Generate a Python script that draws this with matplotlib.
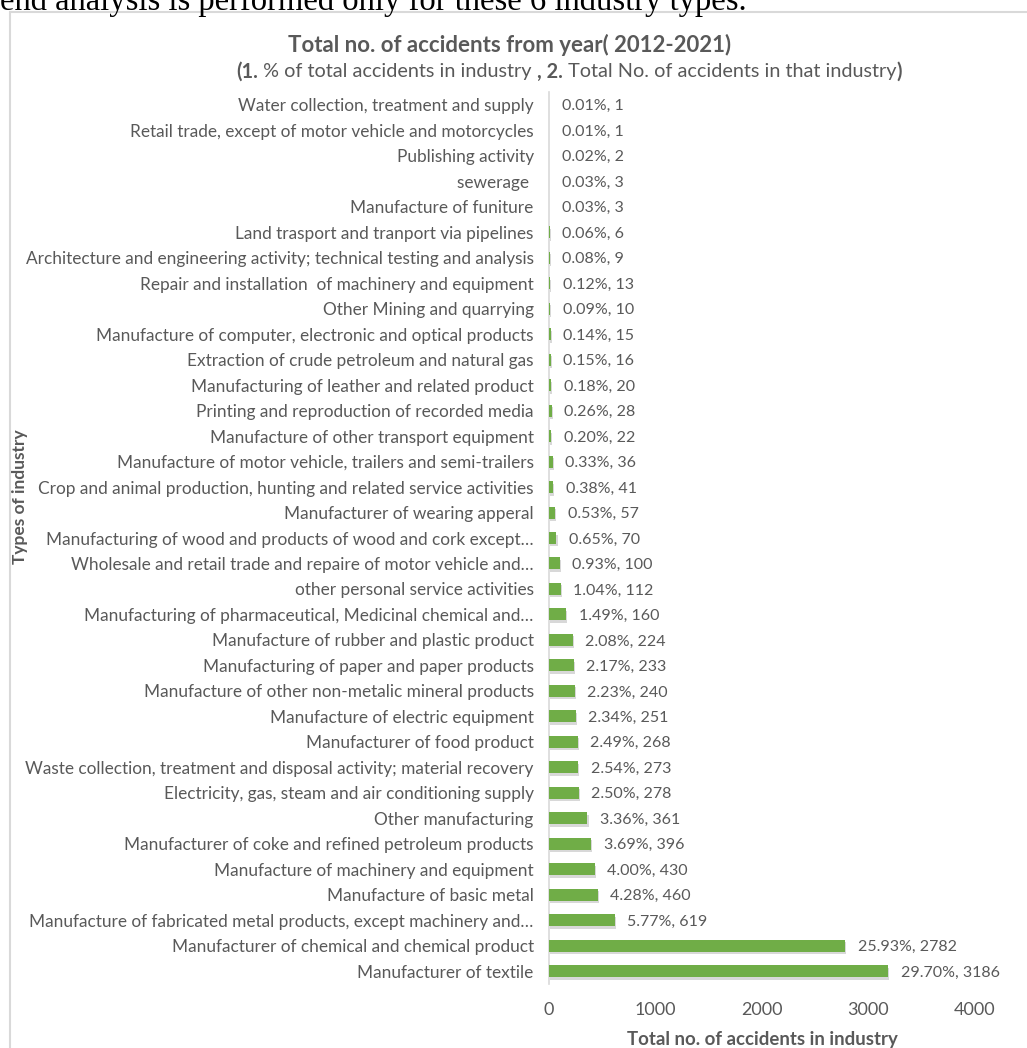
import matplotlib
matplotlib.use("Agg")
import matplotlib.pyplot as plt
import matplotlib.patheffects as pe
from matplotlib.patches import Rectangle

industries = [
    "Water collection, treatment and supply",
    "Retail trade, except of motor vehicle and motorcycles",
    "Publishing activity",
    "sewerage ",
    "Manufacture of funiture",
    "Land trasport and tranport via pipelines",
    "Architecture and engineering activity; technical testing and analysis",
    "Repair and installation  of machinery and equipment",
    "Other Mining and quarrying",
    "Manufacture of computer, electronic and optical products",
    "Extraction of crude petroleum and natural gas",
    "Manufacturing of leather and related product",
    "Printing and reproduction of recorded media",
    "Manufacture of other transport equipment",
    "Manufacture of motor vehicle, trailers and semi-trailers",
    "Crop and animal production, hunting and related service activities",
    "Manufacturer of wearing apperal",
    "Manufacturing of wood and products of wood and cork except\u2026",
    "Wholesale and retail trade and repaire of motor vehicle and\u2026",
    "other personal service activities",
    "Manufacturing of pharmaceutical, Medicinal chemical and\u2026",
    "Manufacture of rubber and plastic product",
    "Manufacturing of paper and paper products",
    "Manufacture of other non-metalic mineral products",
    "Manufacture of electric equipment",
    "Manufacturer of food product",
    "Waste collection, treatment and disposal activity; material recovery",
    "Electricity, gas, steam and air conditioning supply",
    "Other manufacturing",
    "Manufacturer of coke and refined petroleum products",
    "Manufacture of machinery and equipment",
    "Manufacture of basic metal",
    "Manufacture of fabricated metal products, except machinery and\u2026",
    "Manufacturer of chemical and chemical product",
    "Manufacturer of textile",
]
accidents = [1, 1, 2, 3, 3, 6, 9, 13, 10, 15, 16, 20, 28, 22, 36, 41, 57, 70,
             100, 112, 160, 224, 233, 240, 251, 268, 273, 278, 361, 396, 430,
             460, 619, 2782, 3186]
percents = ["0.01%", "0.01%", "0.02%", "0.03%", "0.03%", "0.06%", "0.08%",
            "0.12%", "0.09%", "0.14%", "0.15%", "0.18%", "0.26%", "0.20%",
            "0.33%", "0.38%", "0.53%", "0.65%", "0.93%", "1.04%", "1.49%",
            "2.08%", "2.17%", "2.23%", "2.34%", "2.49%", "2.54%", "2.50%",
            "3.36%", "3.69%", "4.00%", "4.28%", "5.77%", "25.93%", "29.70%"]
xticks = [0, 1000, 2000, 3000, 4000]

FONT = ["Lato", "DejaVu Sans"]
GRAY = "#595959"
GREEN = "#70AD47"

plt.rcParams["font.family"] = FONT

W, H = 1027, 1048
fig = plt.figure(figsize=(W / 100, H / 100), dpi=100)

# outer chart border
fig.patches.append(Rectangle((10 / W, -0.05), 1.1, (H - 12) / H + 0.05,
                             transform=fig.transFigure, fill=False,
                             edgecolor="#D9D9D9", linewidth=1.5))

# cut-off document text at the top (cut in the reference as well)
fig.text(0 / W, 1 - 10 / H, "end analysis is performed only for these 6 industry types.",
         family=["Liberation Serif", "DejaVu Serif"], fontsize=23.5, color="black",
         ha="left", va="baseline")

left, right = 549 / W, 975 / W
top, bottom = 92 / H, 984 / H
ax = fig.add_axes([left, 1 - bottom, right - left, bottom - top])

n = len(industries)
ypos = list(range(n))
bars = ax.barh(ypos, accidents, height=0.47, color=GREEN, zorder=3)
for b in bars:
    b.set_path_effects([pe.SimplePatchShadow(offset=(0.8, -1.8), alpha=0.3, shadow_rgbFace="#7f7f7f"),
                        pe.Normal()])

for y, v, p in zip(ypos, accidents, percents):
    ax.annotate(f"{p}, {v}", (v, y), xytext=(9, 0), textcoords="offset points",
                ha="left", va="center_baseline", fontsize=11.5, color=GRAY)

ax.set_ylim(n - 0.5, -0.5)
ax.set_xlim(0, 4000)
ax.set_yticks(ypos)
ax.set_yticklabels(industries, fontsize=12.4, color=GRAY, va="center_baseline")
ax.set_xticks(xticks)
ax.set_xticklabels([str(t) for t in xticks], fontsize=13, color=GRAY)
ax.tick_params(axis="both", length=0)
ax.tick_params(axis="y", pad=11)
ax.tick_params(axis="x", pad=13)
for s in ["top", "right", "bottom"]:
    ax.spines[s].set_visible(False)
ax.spines["left"].set_color("#D9D9D9")
ax.spines["left"].set_linewidth(1.2)

ax.set_xlabel("Total no. of accidents in industry", fontsize=13.4, fontweight="bold",
              color=GRAY, labelpad=9)

fig.text(20 / W, 1 - 497 / H, "Types of industry", rotation=90, fontsize=12.5,
         fontweight="bold", color=GRAY, ha="center", va="center")

fig.text(510 / W, 1 - 45 / H, "Total no. of accidents from year( 2012-2021)",
         fontsize=16, fontweight="bold", color=GRAY, ha="center", va="center")

# subtitle with mixed bold
parts = [("(1.", "bold"), (" % of total accidents in industry ", "normal"),
         (", 2.", "bold"), (" Total No. of accidents in that industry", "normal"),
         (")", "bold")]
fig.canvas.draw()
renderer = fig.canvas.get_renderer()
texts = []
widths = []
for s, w in parts:
    t = fig.text(0, 1 - 72 / H, s, fontsize=14.3, fontweight=w, color=GRAY,
                 ha="left", va="center")
    bb = t.get_window_extent(renderer=renderer)
    texts.append(t)
    widths.append(bb.width)
total = sum(widths)
x0 = 569 - total / 2
for t, wd in zip(texts, widths):
    t.set_x(x0 / W)
    x0 += wd

fig.savefig("out.png", dpi=100)
